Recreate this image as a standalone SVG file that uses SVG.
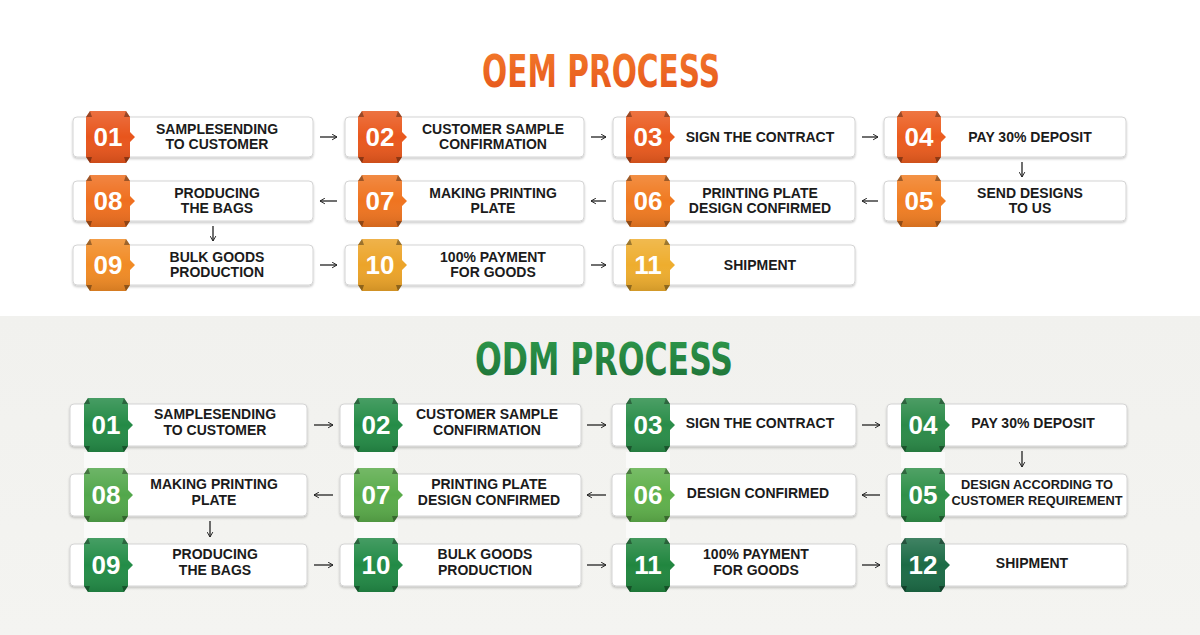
<svg xmlns="http://www.w3.org/2000/svg" xmlns:xlink="http://www.w3.org/1999/xlink" width="1200" height="635" viewBox="0 0 1200 635">
<defs>
<style>
.card{fill:#ffffff;stroke:#d4d4d4;stroke-width:1;filter:url(#sh)}
.num{font-family:"Liberation Sans",Arial,sans-serif;font-weight:bold;font-size:26px;fill:#ffffff;text-anchor:middle}
.lbl{font-family:"Liberation Sans",Arial,sans-serif;font-weight:bold;font-size:14px;fill:#1b1b1b;text-anchor:middle}
.title{font-family:"Liberation Sans Narrow","DejaVu Sans Condensed","Liberation Sans",sans-serif;font-weight:bold;font-size:45px;text-anchor:middle}
.arr{stroke:#222;stroke-width:1.3;fill:none;marker-end:url(#ah)}
.strip{fill:#ffffff;opacity:0.6}
</style>
<linearGradient id="sheen" x1="0" y1="0" x2="0" y2="1">
<stop offset="0" stop-color="#ffffff" stop-opacity="0.16"/>
<stop offset="0.5" stop-color="#ffffff" stop-opacity="0"/>
<stop offset="1" stop-color="#000000" stop-opacity="0.12"/>
</linearGradient>
<linearGradient id="oemT" x1="0" y1="0" x2="0" y2="1">
<stop offset="0" stop-color="#f47c2c"/>
<stop offset="1" stop-color="#e4521a"/>
</linearGradient>
<linearGradient id="odmT" x1="0" y1="0" x2="0" y2="1">
<stop offset="0" stop-color="#2e9a4c"/>
<stop offset="1" stop-color="#1d6f36"/>
</linearGradient>
<linearGradient id="bg2" x1="0" y1="0" x2="0" y2="1">
<stop offset="0" stop-color="#f1f1ee"/>
<stop offset="1" stop-color="#f4f4f1"/>
</linearGradient>
<filter id="sh" x="-5%" y="-20%" width="110%" height="150%">
<feDropShadow dx="0" dy="1.5" stdDeviation="1.3" flood-color="#000" flood-opacity="0.22"/>
</filter>
<marker id="ah" viewBox="0 0 10 10" refX="9" refY="5" markerWidth="7" markerHeight="7" orient="auto" markerUnits="userSpaceOnUse">
<path d="M2,1 L9,5 L2,9" fill="none" stroke="#222" stroke-width="1.4"/>
</marker>
<path id="pO" d="M4,0H40L44,6V21L49,26L44,31V46L40,52H4L0,46V6Z"/>
<g id="bO">
<use href="#pO"/>
<use href="#pO" fill="url(#sheen)"/>
<path d="M0,6L4,0L6,6Z M44,6L40,0L38,6Z M0,46L4,52L6,46Z M44,46L40,52L38,46Z" fill="#000" fill-opacity="0.35"/>
</g>
<path id="pD" d="M4,0H40L44,6V22L49,27L44,32V48L40,54H4L0,48V6Z"/>
<g id="bD">
<use href="#pD"/>
<use href="#pD" fill="url(#sheen)"/>
<path d="M0,6L4,0L6,6Z M44,6L40,0L38,6Z M0,48L4,54L6,48Z M44,48L40,54L38,48Z" fill="#000" fill-opacity="0.35"/>
</g>
</defs>

<rect x="0" y="0" width="1200" height="316" fill="#ffffff"/>
<rect x="0" y="316" width="1200" height="319" fill="url(#bg2)"/>

<text class="title" x="601" y="87" fill="url(#oemT)" textLength="238" lengthAdjust="spacingAndGlyphs">OEM PROCESS</text>
<text class="title" x="604" y="375" fill="url(#odmT)" textLength="258" lengthAdjust="spacingAndGlyphs">ODM PROCESS</text>

<g id="odm-strips">
<rect class="strip" x="84" y="452" width="44" height="16"/>
<rect class="strip" x="354" y="452" width="44" height="16"/>
<rect class="strip" x="626" y="452" width="44" height="16"/>
<rect class="strip" x="901" y="452" width="44" height="16"/>
<rect class="strip" x="84" y="522" width="44" height="16"/>
<rect class="strip" x="354" y="522" width="44" height="16"/>
<rect class="strip" x="626" y="522" width="44" height="16"/>
<rect class="strip" x="901" y="522" width="44" height="16"/>
</g>

<g id="connectors">
<line class="arr" x1="320" y1="137" x2="337" y2="137"/>
<line class="arr" x1="591" y1="137" x2="606" y2="137"/>
<line class="arr" x1="862" y1="137" x2="878" y2="137"/>
<line class="arr" x1="1022" y1="162" x2="1022" y2="177"/>
<line class="arr" x1="878" y1="201" x2="862" y2="201"/>
<line class="arr" x1="606" y1="201" x2="591" y2="201"/>
<line class="arr" x1="337" y1="201" x2="320" y2="201"/>
<line class="arr" x1="213" y1="226" x2="213" y2="241"/>
<line class="arr" x1="320" y1="265" x2="337" y2="265"/>
<line class="arr" x1="591" y1="265" x2="606" y2="265"/>

<line class="arr" x1="314" y1="425" x2="333" y2="425"/>
<line class="arr" x1="587" y1="425" x2="606" y2="425"/>
<line class="arr" x1="862" y1="425" x2="880" y2="425"/>
<line class="arr" x1="1022" y1="451" x2="1022" y2="467"/>
<line class="arr" x1="880" y1="495" x2="862" y2="495"/>
<line class="arr" x1="606" y1="495" x2="587" y2="495"/>
<line class="arr" x1="333" y1="495" x2="314" y2="495"/>
<line class="arr" x1="210" y1="521" x2="210" y2="537"/>
<line class="arr" x1="314" y1="565" x2="333" y2="565"/>
<line class="arr" x1="587" y1="565" x2="606" y2="565"/>
<line class="arr" x1="862" y1="565" x2="880" y2="565"/>
</g>

<!-- OEM -->
<g id="oem-01">
<rect class="card" x="73" y="117" width="240" height="40" rx="4"/>
<use href="#bO" x="86" y="111" fill="#e8551c"/>
<text class="num" x="108" y="146">01</text>
<text class="lbl" x="217" y="134">SAMPLESENDING</text>
<text class="lbl" x="217" y="149">TO CUSTOMER</text>
</g>
<g id="oem-02">
<rect class="card" x="345" y="117" width="239" height="40" rx="4"/>
<use href="#bO" x="358" y="111" fill="#e9581d"/>
<text class="num" x="380" y="146">02</text>
<text class="lbl" x="493" y="134">CUSTOMER SAMPLE</text>
<text class="lbl" x="493" y="149">CONFIRMATION</text>
</g>
<g id="oem-03">
<rect class="card" x="613" y="117" width="242" height="40" rx="4"/>
<use href="#bO" x="626" y="111" fill="#ea5a1e"/>
<text class="num" x="648" y="146">03</text>
<text class="lbl" x="760" y="141.5">SIGN THE CONTRACT</text>
</g>
<g id="oem-04">
<rect class="card" x="884" y="117" width="242" height="40" rx="4"/>
<use href="#bO" x="897" y="111" fill="#eb5c1e"/>
<text class="num" x="919" y="146">04</text>
<text class="lbl" x="1030" y="141.5">PAY 30% DEPOSIT</text>
</g>
<g id="oem-05">
<rect class="card" x="884" y="181" width="242" height="40" rx="4"/>
<use href="#bO" x="897" y="175" fill="#f17e23"/>
<text class="num" x="919" y="210">05</text>
<text class="lbl" x="1030" y="198">SEND DESIGNS</text>
<text class="lbl" x="1030" y="213">TO US</text>
</g>
<g id="oem-06">
<rect class="card" x="613" y="181" width="242" height="40" rx="4"/>
<use href="#bO" x="626" y="175" fill="#f07a21"/>
<text class="num" x="648" y="210">06</text>
<text class="lbl" x="760" y="198">PRINTING PLATE</text>
<text class="lbl" x="760" y="213">DESIGN CONFIRMED</text>
</g>
<g id="oem-07">
<rect class="card" x="345" y="181" width="239" height="40" rx="4"/>
<use href="#bO" x="358" y="175" fill="#ef7420"/>
<text class="num" x="380" y="210">07</text>
<text class="lbl" x="493" y="198">MAKING PRINTING</text>
<text class="lbl" x="493" y="213">PLATE</text>
</g>
<g id="oem-08">
<rect class="card" x="73" y="181" width="240" height="40" rx="4"/>
<use href="#bO" x="86" y="175" fill="#ef6f1f"/>
<text class="num" x="108" y="210">08</text>
<text class="lbl" x="217" y="198">PRODUCING</text>
<text class="lbl" x="217" y="213">THE BAGS</text>
</g>
<g id="oem-09">
<rect class="card" x="73" y="245" width="240" height="40" rx="4"/>
<use href="#bO" x="86" y="239" fill="#f18b25"/>
<text class="num" x="108" y="274">09</text>
<text class="lbl" x="217" y="262">BULK GOODS</text>
<text class="lbl" x="217" y="277">PRODUCTION</text>
</g>
<g id="oem-10">
<rect class="card" x="345" y="245" width="239" height="40" rx="4"/>
<use href="#bO" x="358" y="239" fill="#eca429"/>
<text class="num" x="380" y="274">10</text>
<text class="lbl" x="493" y="262">100% PAYMENT</text>
<text class="lbl" x="493" y="277">FOR GOODS</text>
</g>
<g id="oem-11">
<rect class="card" x="613" y="245" width="242" height="40" rx="4"/>
<use href="#bO" x="626" y="239" fill="#eead2e"/>
<text class="num" x="648" y="274">11</text>
<text class="lbl" x="760" y="269.5">SHIPMENT</text>
</g>

<!-- ODM -->
<g id="odm-01">
<rect class="card" x="70" y="404" width="237" height="42" rx="4"/>
<use href="#bD" x="84" y="398" fill="#248a46"/>
<text class="num" x="106" y="434">01</text>
<text class="lbl" x="215" y="419">SAMPLESENDING</text>
<text class="lbl" x="215" y="435">TO CUSTOMER</text>
</g>
<g id="odm-02">
<rect class="card" x="340" y="404" width="241" height="42" rx="4"/>
<use href="#bD" x="354" y="398" fill="#258c47"/>
<text class="num" x="376" y="434">02</text>
<text class="lbl" x="487" y="419">CUSTOMER SAMPLE</text>
<text class="lbl" x="487" y="435">CONFIRMATION</text>
</g>
<g id="odm-03">
<rect class="card" x="612" y="404" width="244" height="42" rx="4"/>
<use href="#bD" x="626" y="398" fill="#2a8d49"/>
<text class="num" x="648" y="434">03</text>
<text class="lbl" x="760" y="428">SIGN THE CONTRACT</text>
</g>
<g id="odm-04">
<rect class="card" x="887" y="404" width="240" height="42" rx="4"/>
<use href="#bD" x="901" y="398" fill="#2b8a48"/>
<text class="num" x="923" y="434">04</text>
<text class="lbl" x="1033" y="428">PAY 30% DEPOSIT</text>
</g>
<g id="odm-05">
<rect class="card" x="887" y="474" width="240" height="42" rx="4"/>
<use href="#bD" x="901" y="468" fill="#2f9049"/>
<text class="num" x="923" y="504">05</text>
<text class="lbl" x="1037" y="489" style="font-size:12.8px">DESIGN ACCORDING TO</text>
<text class="lbl" x="1037" y="505" style="font-size:12.8px">CUSTOMER REQUIREMENT</text>
</g>
<g id="odm-06">
<rect class="card" x="612" y="474" width="244" height="42" rx="4"/>
<use href="#bD" x="626" y="468" fill="#5fb04b"/>
<text class="num" x="648" y="504">06</text>
<text class="lbl" x="758" y="498">DESIGN CONFIRMED</text>
</g>
<g id="odm-07">
<rect class="card" x="340" y="474" width="241" height="42" rx="4"/>
<use href="#bD" x="354" y="468" fill="#5aab4a"/>
<text class="num" x="376" y="504">07</text>
<text class="lbl" x="489" y="489">PRINTING PLATE</text>
<text class="lbl" x="489" y="505">DESIGN CONFIRMED</text>
</g>
<g id="odm-08">
<rect class="card" x="70" y="474" width="237" height="42" rx="4"/>
<use href="#bD" x="84" y="468" fill="#52a74b"/>
<text class="num" x="106" y="504">08</text>
<text class="lbl" x="214" y="489">MAKING PRINTING</text>
<text class="lbl" x="214" y="505">PLATE</text>
</g>
<g id="odm-09">
<rect class="card" x="70" y="544" width="237" height="42" rx="4"/>
<use href="#bD" x="84" y="538" fill="#238c47"/>
<text class="num" x="106" y="574">09</text>
<text class="lbl" x="215" y="559">PRODUCING</text>
<text class="lbl" x="215" y="575">THE BAGS</text>
</g>
<g id="odm-10">
<rect class="card" x="340" y="544" width="241" height="42" rx="4"/>
<use href="#bD" x="354" y="538" fill="#228a46"/>
<text class="num" x="376" y="574">10</text>
<text class="lbl" x="485" y="559">BULK GOODS</text>
<text class="lbl" x="485" y="575">PRODUCTION</text>
</g>
<g id="odm-11">
<rect class="card" x="612" y="544" width="244" height="42" rx="4"/>
<use href="#bD" x="626" y="538" fill="#21863f"/>
<text class="num" x="648" y="574">11</text>
<text class="lbl" x="756" y="559">100% PAYMENT</text>
<text class="lbl" x="756" y="575">FOR GOODS</text>
</g>
<g id="odm-12">
<rect class="card" x="887" y="544" width="240" height="42" rx="4"/>
<use href="#bD" x="901" y="538" fill="#1c6b46"/>
<text class="num" x="923" y="574">12</text>
<text class="lbl" x="1032" y="568">SHIPMENT</text>
</g>
</svg>
